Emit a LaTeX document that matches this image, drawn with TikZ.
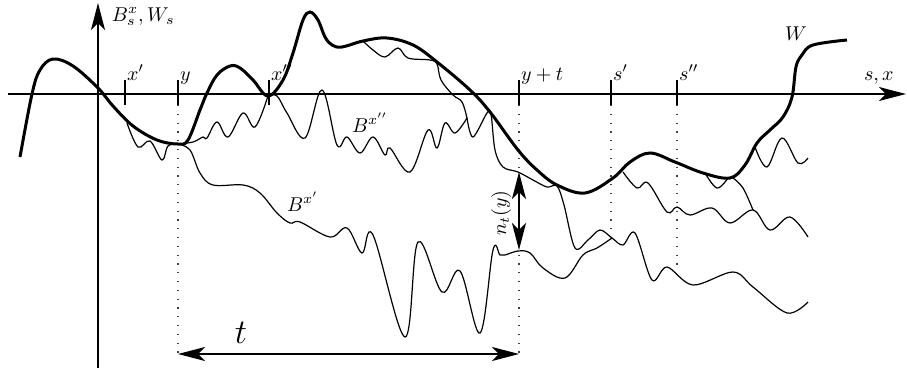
\documentclass[tikz,border=0pt]{standalone}
\usetikzlibrary{arrows.meta}
\begin{document}
\begin{tikzpicture}[x=0.5pt,y=-0.5pt,
  tip/.tip={Stealth[length=13.5pt,width=7pt,inset=3.5pt]},
  axis/.style={line width=0.6pt,-tip},
  thinpath/.style={line width=0.6pt},
  thickpath/.style={line width=1.5pt},
  tickmark/.style={line width=0.8pt},
  guide/.style={line width=0.6pt,dash pattern=on 0.6pt off 3.8pt,black!75},
  dbl/.style={line width=0.8pt,tip-tip},
  lab/.style={anchor=base west,inner sep=0.8pt}]
\useasboundingbox (0,0) rectangle (907,370);
% axes
\coordinate (xl) at (8,94); \coordinate (xr) at (906,94);
\coordinate (vb) at (98,368); \coordinate (vt) at (98,3);
\draw[axis] (xl) -- (xr);
\draw[axis] (vb) -- (vt);
\node[lab] (lab1) at (110,21) {$B^x_s,W_s$};
\node[lab] (lab2) at (862,80) {$s,x$};
% ticks
\foreach \n/\x in {A/125,B/178,C/269,D/519,E/611,F/677}{
  \coordinate (t\n top) at (\x,80); \coordinate (t\n bot) at (\x,105);
  \draw[tickmark] (t\n top) -- (t\n bot);}
\node[lab] (lxA) at (tAtop) {$x'$};
\node[lab] (lxB) at (tBtop) {$y$};
\node[lab] (lxC) at (tCtop) {$x''$};
\node[lab] (lxD) at (tDtop) {$y+t$};
\node[lab] (lxE) at (tEtop) {$s'$};
\node[lab] (lxF) at (tFtop) {$s''$};
% dotted guides
\coordinate (gB) at (178,354); \coordinate (gD) at (519,354);
\coordinate (gE) at (611,234); \coordinate (gF) at (677,270);
\draw[guide] (tBbot) -- (gB);
\draw[guide] (tDbot) -- (gD);
\draw[guide] (tEbot) -- (gE);
\draw[guide] (tFbot) -- (gF);
% W
\draw[thickpath] plot[smooth,tension=0.6] coordinates {
 (20,157) (32,94) (40,70) (53,59) (73,66) (98,88) (113,106) (133,126) (157,140)
 (178,144) (188,140) (200,110) (207,93) (217,75) (230,66) (240,68) (253,80) (268,96)
 (283,80) (293,53) (303,20) (310,12) (318,20) (325,37) (332,45) (342,47) (363,41)
 (387,38) (413,45) (437,62) (470,90) (490,112) (518,150) (537,170) (557,185) (585,193)
 (613,178) (630,162) (650,153) (675,162) (703,173) (730,178) (745,165) (757,143) (770,130)
 (783,117) (792,97) (796,67) (802,55) (813,45) (847,40)};
\node[lab] (lW) at (783,40) {$W$};
% thin paths
\draw[thinpath] plot[smooth,tension=0.6] coordinates {
 (127,123) (138,147) (150,141) (162,160) (168,146) (178,144)};
\draw[thinpath] plot[smooth,tension=0.6] coordinates {
 (178,144) (193,142) (203,137) (207,138) (217,122) (228,137) (243,113) (255,127) (268,96)};
\draw[thinpath] plot[smooth,tension=0.6] coordinates {
 (268,96) (277,96) (287,113) (305,138) (322,90) (337,145) (347,137) (360,153) (373,137)
 (385,155) (390,148) (410,172) (428,130) (437,148) (445,123) (455,133) (467,118)};
\node[lab] (lBxpp) at (350,132) {$B^{x''}$};
\draw[thinpath] plot[smooth,tension=0.6] coordinates {
 (363,41) (373,50) (385,57) (398,48) (408,58) (430,60) (437,64) (441,80) (453,95)
 (462,102) (467,118)};
\draw[thinpath] plot[smooth,tension=0.55] coordinates {
 (467,118) (473,137) (487,113) (491,114) (495,150) (503,167) (518,172) (533,180) (547,187)
 (557,186) (564,205) (575,248) (588,240) (600,230) (612,238) (623,245) (635,233)
 (652,280) (667,267) (693,285) (733,272) (753,287) (787,313) (808,302)};
\draw[thinpath] plot[smooth,tension=0.6] coordinates {
 (178,144) (190,150) (200,173) (213,185) (243,185) (260,193) (277,213) (290,223) (300,222)
 (330,237) (347,228) (362,253) (373,235) (405,337) (418,242) (442,292) (460,271)
 (480,333) (493,250) (500,255) (505,255) (518,251) (530,253) (543,268) (565,278)
 (583,255) (597,248) (612,238)};
\node[lab] (lBxp) at (285,211) {$B^{x'}$};
\draw[thinpath] plot[smooth,tension=0.6] coordinates {
 (623,172) (637,188) (648,183) (667,212) (677,207) (690,215) (712,208) (730,223) (753,210)
 (770,230) (790,217) (808,237)};
\draw[thinpath] plot[smooth,tension=0.6] coordinates {(733,178) (743,188) (753,210)};
\draw[thinpath] plot[smooth,tension=0.6] coordinates {(705,173) (717,188) (728,178)};
\draw[thinpath] plot[smooth,tension=0.6] coordinates {(755,147) (767,167) (782,138) (798,163) (808,158)};
% arrows
\coordinate (nTop) at (519,172); \coordinate (nBot) at (519,250);
\draw[dbl] (nTop) -- (nBot);
\node[rotate=90] (lnt) at (501,213) {$n_t(y)$};
\draw[dbl] (gB) -- (gD);
\node[anchor=base] (lt) at (241,343) {\LARGE$t$};
\end{tikzpicture}
\end{document}
